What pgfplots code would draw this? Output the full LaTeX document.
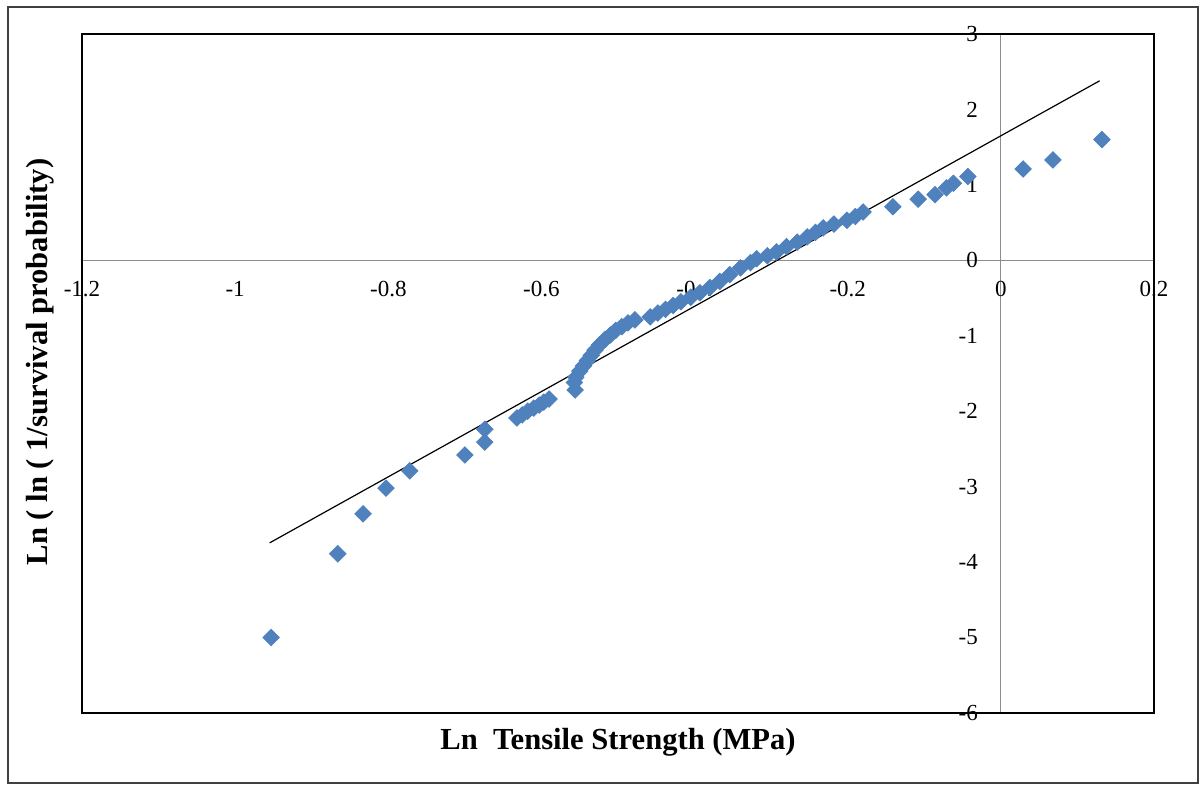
\documentclass[border=0pt]{standalone}
\usepackage{fontspec}
\setmainfont{Liberation Serif}
\usepackage{pgfplots}
\pgfplotsset{compat=1.18}
\definecolor{excelblue}{HTML}{4F81BD}
\begin{document}
\begin{tikzpicture}
\begin{axis}[
  scale only axis, width=536pt, height=339.5pt,
  xmin=-1.2, xmax=0.2, ymin=-6, ymax=3,
  axis x line=middle, axis y line=middle,
  axis line style={black!45, line width=0.6pt, -},
  xtick={-1.2,-1,-0.8,-0.6,-0.4,-0.2,0,0.2},
  ytick={-6,-5,-4,-3,-2,-1,0,1,2,3},
  hide obscured x ticks=false, hide obscured y ticks=false,
  major tick length=0pt,
  /pgf/number format/assume math mode=true,
  xticklabel style={font=\fontsize{11.5}{13}\selectfont, yshift=-7pt,
    /pgf/number format/fixed, /pgf/number format/precision=1},
  yticklabel style={font=\fontsize{11.5}{13}\selectfont, xshift=-8pt},
  xlabel={Ln\ \ Tensile Strength (MPa)},
  ylabel={Ln ( ln ( 1/survival probability)},
  every axis x label/.style={at={(rel axis cs:0.5,-0.043)}, anchor=center,
    font=\fontsize{15.3}{17}\selectfont\bfseries},
  every axis y label/.style={at={(rel axis cs:-0.039,0.517)}, anchor=center, rotate=90,
    font=\fontsize{15.3}{17}\selectfont\bfseries},
  clip=false,
]
\draw[black, line width=0.9pt] (rel axis cs:0,0) rectangle (rel axis cs:1,1);
\draw[black!75, line width=0.8pt] (rel axis cs:-0.069,-0.103) rectangle (rel axis cs:1.041,1.040);
\coordinate (bl) at (rel axis cs:-0.0765,-0.106);
\coordinate (tr) at (rel axis cs:1.0457,1.050);
\addplot[only marks, mark=square*, mark size=2.9pt,
  mark options={rotate=45, fill=excelblue, draw=excelblue}] coordinates {
(-0.953,-5.00)
(-0.866,-3.89)
(-0.833,-3.36)
(-0.803,-3.02)
(-0.772,-2.79)
(-0.700,-2.58)
(-0.674,-2.41)
(-0.674,-2.24)
(-0.632,-2.09)
(-0.625,-2.05)
(-0.618,-2.00)
(-0.610,-1.96)
(-0.603,-1.92)
(-0.597,-1.88)
(-0.590,-1.84)
(-0.556,-1.72)
(-0.557,-1.62)
(-0.555,-1.55)
(-0.550,-1.47)
(-0.545,-1.40)
(-0.540,-1.33)
(-0.535,-1.26)
(-0.530,-1.19)
(-0.524,-1.12)
(-0.517,-1.05)
(-0.510,-0.99)
(-0.503,-0.93)
(-0.495,-0.88)
(-0.487,-0.83)
(-0.478,-0.79)
(-0.458,-0.75)
(-0.448,-0.70)
(-0.438,-0.65)
(-0.428,-0.60)
(-0.418,-0.55)
(-0.405,-0.49)
(-0.393,-0.43)
(-0.380,-0.36)
(-0.367,-0.28)
(-0.354,-0.19)
(-0.340,-0.10)
(-0.327,-0.03)
(-0.319,0.02)
(-0.305,0.06)
(-0.293,0.11)
(-0.280,0.18)
(-0.266,0.24)
(-0.253,0.31)
(-0.242,0.37)
(-0.232,0.43)
(-0.218,0.48)
(-0.201,0.53)
(-0.190,0.58)
(-0.180,0.64)
(-0.141,0.71)
(-0.108,0.81)
(-0.086,0.87)
(-0.071,0.96)
(-0.062,1.02)
(-0.043,1.11)
(0.029,1.21)
(0.068,1.33)
(0.132,1.60)
};
\addplot[black, line width=0.6pt, no marks] coordinates {(-0.955,-3.746) (0.129,2.379)};
\end{axis}
\pgfresetboundingbox
\path[use as bounding box] (bl) rectangle (tr);
\end{tikzpicture}
\end{document}
